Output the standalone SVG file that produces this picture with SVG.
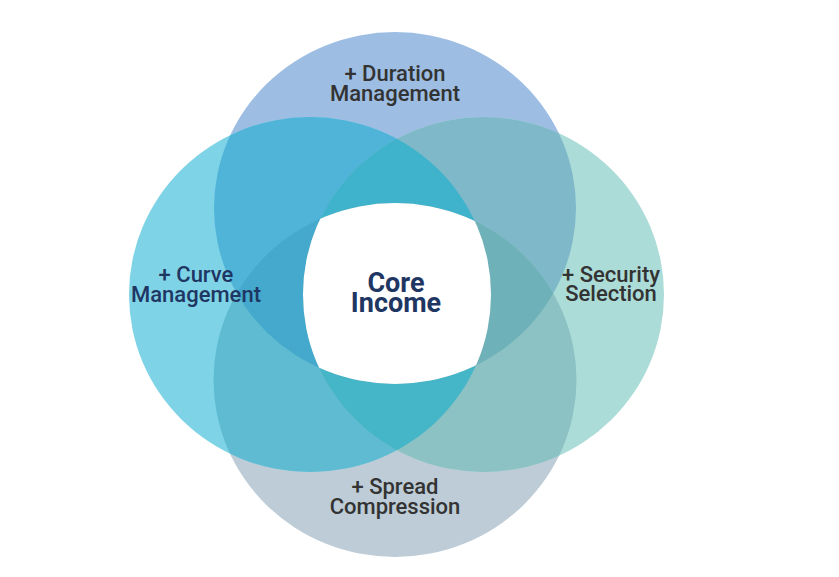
<svg xmlns="http://www.w3.org/2000/svg" xmlns:xlink="http://www.w3.org/1999/xlink" width="839" height="577" viewBox="0 0 839 577">
  <style>
    .lbl { font-family: Roboto, "Liberation Sans", sans-serif; font-weight: 500; font-size: 22px; text-anchor: middle; fill: #333333; }
    .navy { fill: #1f3663; }
    .core { font-family: Roboto, "Liberation Sans", sans-serif; font-weight: 700; font-size: 27px; text-anchor: middle; fill: #1f3663; }
  </style>
  <defs>
    <ellipse id="eT" cx="395" cy="208" rx="181" ry="176"/>
    <ellipse id="eL" cx="310" cy="294.5" rx="181" ry="177.5"/>
    <ellipse id="eR" cx="483.5" cy="294.5" rx="180.5" ry="177.5"/>
    <ellipse id="eB" cx="395" cy="380" rx="181.5" ry="177"/>
    <clipPath id="cT"><use xlink:href="#eT"/></clipPath>
    <clipPath id="cL"><use xlink:href="#eL"/></clipPath>
    <clipPath id="cR"><use xlink:href="#eR"/></clipPath>
    <clipPath id="cB"><use xlink:href="#eB"/></clipPath>
  </defs>
  <rect width="839" height="577" fill="#ffffff"/>

  <g id="node-duration">
    <use xlink:href="#eT" fill="#9dbde3"/>
  </g>
  <g id="node-spread">
    <use xlink:href="#eB" fill="#bdccd6"/>
  </g>
  <g id="node-curve">
    <use xlink:href="#eL" fill="#7ed3e6"/>
  </g>
  <g id="node-security">
    <use xlink:href="#eR" fill="#acdcd8"/>
  </g>

  <g id="overlaps">
    <use xlink:href="#eL" clip-path="url(#cT)" fill="#4fb4d8"/>
    <use xlink:href="#eR" clip-path="url(#cT)" fill="#7fb9c9"/>
    <use xlink:href="#eL" clip-path="url(#cB)" fill="#5fbbd1"/>
    <use xlink:href="#eR" clip-path="url(#cB)" fill="#8cc2c3"/>
    <g clip-path="url(#cT)"><use xlink:href="#eR" clip-path="url(#cL)" fill="#3fb3cc"/></g>
    <g clip-path="url(#cB)"><use xlink:href="#eR" clip-path="url(#cL)" fill="#45b5c8"/></g>
    <g clip-path="url(#cT)"><use xlink:href="#eB" clip-path="url(#cL)" fill="#44a9cc"/></g>
    <g clip-path="url(#cT)"><use xlink:href="#eB" clip-path="url(#cR)" fill="#6fb1b8"/></g>
  </g>

  <g id="node-core">
    <g clip-path="url(#cT)"><g clip-path="url(#cB)"><use xlink:href="#eR" clip-path="url(#cL)" fill="#ffffff"/></g></g>
    <text class="core" x="396" y="292">Core</text>
    <text class="core" x="396" y="312">Income</text>
  </g>

  <g id="labels">
    <text class="lbl" x="395" y="81">+ Duration</text>
    <text class="lbl" x="395" y="101">Management</text>
    <text class="lbl navy" x="196" y="282">+ Curve</text>
    <text class="lbl navy" x="196" y="302">Management</text>
    <text class="lbl" x="611" y="282">+ Security</text>
    <text class="lbl" x="611" y="301">Selection</text>
    <text class="lbl" x="395" y="494">+ Spread</text>
    <text class="lbl" x="395" y="514">Compression</text>
  </g>

  <g id="connectors"/>
</svg>
